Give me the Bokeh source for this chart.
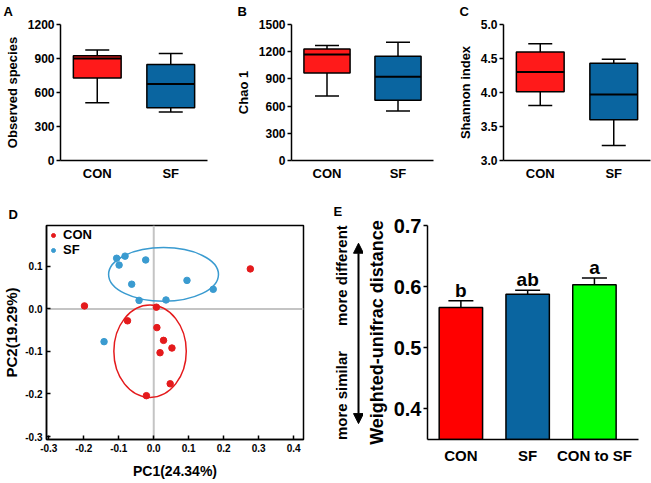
from bokeh.plotting import figure
from bokeh.models import (ColumnDataSource, FactorRange, Range1d, FixedTicker, PrintfTickFormatter,
                          Whisker, TeeHead, Arrow, NormalHead, Span, Legend, LegendItem)
from bokeh.transform import dodge
from bokeh.layouts import column, row
from bokeh.embed import file_html
from bokeh.resources import INLINE
from bokeh.core.properties import value

FONT = "Liberation Sans"

# ---------------- data ----------------
groups = ["CON", "SF"]
box_colors = ["#FF1A1A", "#0A65A0"]

obs_min = [509, 427]
obs_q1 = [729, 465]
obs_med = [901, 676]
obs_q3 = [925, 846]
obs_max = [975, 945]
obs_ticks = [0, 300, 600, 900, 1200]

chao_min = [712, 545]
chao_q1 = [966, 665]
chao_med = [1170, 923]
chao_q3 = [1231, 1151]
chao_max = [1268, 1304]
chao_ticks = [0, 300, 600, 900, 1200, 1500]

sh_min = [3.81, 3.22]
sh_q1 = [4.01, 3.60]
sh_med = [4.30, 3.97]
sh_q3 = [4.595, 4.43]
sh_max = [4.716, 4.49]
sh_ticks = [3.0, 3.5, 4.0, 4.5, 5.0]

con_x = [0.276, -0.198, 0.0075, -0.075, 0.009, 0.028, 0.052, 0.018, 0.047, -0.021]
con_y = [0.094, 0.007, 0.004, -0.028, -0.044, -0.074, -0.092, -0.103, -0.176, -0.204]
sf_x = [-0.106, -0.082, -0.099, -0.023, -0.063, -0.042, 0.035, 0.095, 0.170, -0.142]
sf_y = [0.119, 0.124, 0.103, 0.115, 0.058, 0.020, 0.021, 0.067, 0.046, -0.077]
ell_x = [-0.0105, 0.028]
ell_y = [-0.0996, 0.081]
ell_w = [0.207, 0.314]
ell_h = [0.217, 0.126]
pc1_ticks = [-0.3, -0.2, -0.1, 0.0, 0.1, 0.2, 0.3, 0.4]
pc2_ticks = [-0.3, -0.2, -0.1, 0.0, 0.1]

e_cats = ["CON", "SF", "CON to SF"]
e_pos = [0.5, 1.5, 2.5]
e_mean = [0.566, 0.5875, 0.603]
e_se = [0.011, 0.0065, 0.011]
e_letters = ["b", "ab", "a"]
e_colors = ["#FF0000", "#0A65A0", "#00FF00"]
e_ticks = [0.4, 0.5, 0.6, 0.7]
e_side_texts = ["more different", "more similar"]
e_side_y = [0.618, 0.422]          # centres of the two notes, on the distance scale
e_arrow_y = [0.376, 0.671]         # ends of the double arrow, on the distance scale


def style_axis(ax, tick_size, label_size):
    ax.axis_line_color = "black"
    ax.axis_line_width = 1.5
    ax.major_tick_line_color = "black"
    ax.major_tick_line_width = 1.5
    ax.minor_tick_line_color = None
    ax.major_label_text_font = FONT
    ax.major_label_text_font_style = "bold"
    ax.major_label_text_font_size = tick_size
    ax.major_label_text_color = "black"
    ax.axis_label_text_font = FONT
    ax.axis_label_text_font_style = "bold"
    ax.axis_label_text_font_size = label_size
    ax.axis_label_text_color = "black"


def letter_title(p, text, offset, standoff):
    t = p.title
    t.text = text
    t.align = "left"
    t.vertical_align = "top"
    t.offset = offset
    t.text_font = FONT
    t.text_font_size = "13px"
    t.text_font_style = "bold"
    t.text_color = "black"
    if "standoff" in t.properties():
        t.standoff = standoff


TOP_H = 196


def box_panel(letter, ylabel, lo, q1, med, q3, hi, ticks, fmt, width, left, right, letter_off):
    src = ColumnDataSource(dict(cat=groups, lo=lo, q1=q1, med=med, q3=q3, hi=hi, color=box_colors))
    p = figure(x_range=FactorRange(*groups, range_padding=0),
               y_range=Range1d(ticks[0], ticks[-1]),
               width=width, height=TOP_H,
               min_border_left=left, min_border_right=right,
               min_border_top=22, min_border_bottom=36,
               toolbar_location=None, output_backend="svg")
    p.vbar(x="cat", bottom="q1", top="q3", width=0.65, fill_color="color",
           line_color="black", line_width=1.5, source=src)
    p.segment(x0=dodge("cat", -0.325, range=p.x_range), y0="med",
              x1=dodge("cat", 0.325, range=p.x_range), y1="med",
              line_color="black", line_width=2, source=src)
    p.add_layout(Whisker(source=src, base="cat", lower="q3", upper="hi",
                         upper_head=TeeHead(size=24, line_width=1.5, line_color="black"),
                         lower_head=None, line_width=1.5, line_color="black"))
    p.add_layout(Whisker(source=src, base="cat", lower="lo", upper="q1",
                         lower_head=TeeHead(size=24, line_width=1.5, line_color="black"),
                         upper_head=None, line_width=1.5, line_color="black"))
    p.xgrid.visible = False
    p.ygrid.visible = False
    p.outline_line_color = None
    style_axis(p.xaxis[0], "13px", "13px")
    style_axis(p.yaxis[0], "12px", "13px")
    p.xaxis.major_tick_out = 0
    p.xaxis.major_tick_in = 0
    p.xaxis.major_label_standoff = 5
    p.yaxis.ticker = FixedTicker(ticks=ticks)
    if fmt:
        p.yaxis.formatter = PrintfTickFormatter(format=fmt)
    p.yaxis.major_tick_out = 4
    p.yaxis.major_tick_in = 0
    p.yaxis.major_label_standoff = 2
    p.yaxis.axis_label = ylabel
    p.yaxis.axis_label_standoff = 5
    letter_title(p, letter, letter_off, 7)
    return p


pA = box_panel("A", "Observed species", obs_min, obs_q1, obs_med, obs_q3, obs_max,
               obs_ticks, None, 232, 60, 25, -57)
pB = box_panel("B", "Chao 1", chao_min, chao_q1, chao_med, chao_q3, chao_max,
               chao_ticks, None, 218, 54, 17, -54)
pC = box_panel("C", "Shannon index", sh_min, sh_q1, sh_med, sh_q3, sh_max,
               sh_ticks, "%.1f", 201, 53, 1, -44)

BOT_H = 483 - TOP_H

# ---------------- D: PCoA ----------------
pD = figure(x_range=Range1d(-0.3065, 0.428), y_range=Range1d(-0.307, 0.196),
            width=318, height=BOT_H, min_border_left=41, min_border_right=15,
            min_border_top=21, min_border_bottom=39,
            toolbar_location=None, output_backend="svg")
pD.xgrid.visible = False
pD.ygrid.visible = False
pD.outline_line_color = "black"
pD.outline_line_width = 1.5
pD.add_layout(Span(location=0, dimension="height", line_color="#C4C4C4", line_width=2, level="underlay"))
pD.add_layout(Span(location=0, dimension="width", line_color="#C4C4C4", line_width=2, level="underlay"))
pD.ellipse(x=ell_x, y=ell_y, width=ell_w, height=ell_h, fill_alpha=0,
           line_color=["#E41A1C", "#3A9BD0"], line_width=1.5)
r_con = pD.scatter(con_x, con_y, size=6.5, color="#E41A1C")
r_sf = pD.scatter(sf_x, sf_y, size=6.5, color="#3A9BD0")
leg = Legend(items=[LegendItem(label="CON", renderers=[r_con]), LegendItem(label="SF", renderers=[r_sf])],
             location="top_left", margin=0, padding=2, spacing=0, glyph_width=10, glyph_height=10,
             label_height=10, label_standoff=5, label_text_font=FONT, label_text_font_style="bold",
             label_text_font_size="13px", label_text_color="black",
             background_fill_alpha=0, border_line_alpha=0)
pD.add_layout(leg)
style_axis(pD.xaxis[0], "10px", "14px")
style_axis(pD.yaxis[0], "10px", "15px")
pD.xaxis.ticker = FixedTicker(ticks=pc1_ticks)
pD.yaxis.ticker = FixedTicker(ticks=pc2_ticks)
pD.xaxis.formatter = PrintfTickFormatter(format="%.1f")
pD.yaxis.formatter = PrintfTickFormatter(format="%.1f")
for ax in (pD.xaxis[0], pD.yaxis[0]):
    ax.major_tick_in = 4
    ax.major_tick_out = 0
    ax.major_label_standoff = 4
pD.xaxis.axis_label_standoff = 8
pD.yaxis.axis_label_standoff = 2
pD.xaxis.axis_label = "PC1(24.34%)"
pD.yaxis.axis_label = "PC2(19.29%)"
letter_title(pD, "D", -38, 3)

# ---------------- E: bars ----------------
E_TOP, E_BOTTOM = 29, 44
GW = 45
e_yrange = Range1d(0.35, 0.7)
srcE = ColumnDataSource(dict(x=e_pos, mean=e_mean, up=[m + s for m, s in zip(e_mean, e_se)],
                             color=e_colors, letter=e_letters))
pE = figure(x_range=Range1d(0, 3.16), y_range=e_yrange,
            width=651 - 318 - GW, height=BOT_H, min_border_left=60, min_border_right=13,
            min_border_top=E_TOP, min_border_bottom=E_BOTTOM,
            toolbar_location=None, output_backend="svg")
pE.xgrid.visible = False
pE.ygrid.visible = False
pE.outline_line_color = None
pE.vbar(x="x", bottom=0.35, top="mean", width=0.65, fill_color="color",
        line_color="black", line_width=1.5, source=srcE)
pE.add_layout(Whisker(source=srcE, base="x", lower="mean", upper="up",
                      upper_head=TeeHead(size=25, line_width=1.5, line_color="black"),
                      lower_head=None, line_width=1.5, line_color="black"))
pE.text(x="x", y="up", text="letter", text_font=value(FONT), text_font_size="19px",
        text_font_style="bold", text_align="center", text_baseline="bottom",
        y_offset=0, text_color="black", source=srcE)
style_axis(pE.xaxis[0], "15px", "15px")
style_axis(pE.yaxis[0], "20px", "18px")
pE.xaxis.ticker = FixedTicker(ticks=e_pos)
pE.xaxis.major_label_overrides = dict(zip(e_pos, e_cats))
pE.xaxis.major_tick_out = 0
pE.xaxis.major_tick_in = 0
pE.xaxis.major_label_standoff = 7
pE.yaxis.ticker = FixedTicker(ticks=e_ticks)
pE.yaxis.formatter = PrintfTickFormatter(format="%.1f")
pE.yaxis.major_tick_out = 4
pE.yaxis.major_tick_in = 0
pE.yaxis.major_label_standoff = 2
pE.yaxis.axis_label = "Weighted-unifrac distance"
pE.yaxis.axis_label_standoff = 4

# ---------------- side strip of E (letter, notes, double arrow) ----------------
pG = figure(x_range=Range1d(0, GW), y_range=e_yrange, width=GW, height=BOT_H,
            min_border_left=0, min_border_right=0,
            min_border_top=E_TOP, min_border_bottom=E_BOTTOM,
            x_axis_location=None, y_axis_location=None,
            toolbar_location=None, output_backend="svg")
pG.grid.visible = False
pG.outline_line_color = None
letter_title(pG, "E", 15, 10)
pG.text(x=[23, 23], y=e_side_y, text=e_side_texts, angle=1.5708,
        text_font=value(FONT), text_font_size="15px", text_font_style="bold",
        text_align="center", text_baseline="middle", text_color="black")
pG.add_layout(Arrow(x_start=40, y_start=e_arrow_y[0], x_end=40, y_end=e_arrow_y[1],
                    line_width=2, line_color="black",
                    start=NormalHead(size=10, fill_color="black", line_color="black"),
                    end=NormalHead(size=10, fill_color="black", line_color="black")))

layout = column(row(pA, pB, pC), row(pD, pG, pE))
open("out.html", "w").write(file_html(layout, INLINE))
